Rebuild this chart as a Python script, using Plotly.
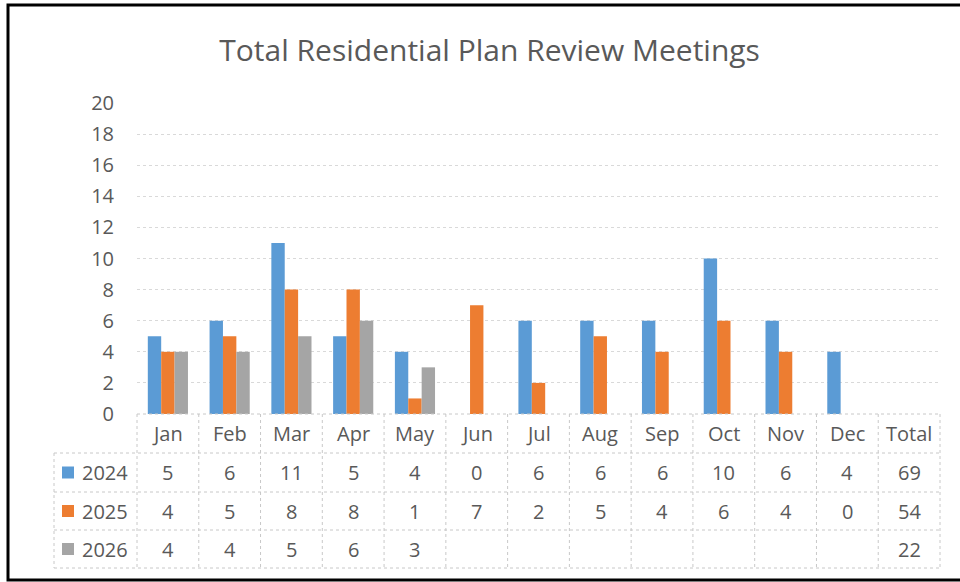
import plotly.graph_objects as go

# data
months = ["Jan", "Feb", "Mar", "Apr", "May", "Jun", "Jul", "Aug", "Sep", "Oct", "Nov", "Dec"]
years = ["2024", "2025", "2026"]
v2024 = [5, 6, 11, 5, 4, 0, 6, 6, 6, 10, 6, 4]
v2025 = [4, 5, 8, 8, 1, 7, 2, 5, 4, 6, 4, 0]
v2026 = [4, 4, 5, 6, 3, None, None, None, None, None, None, None]
colors = ["#5B9BD5", "#ED7D31", "#A5A5A5"]
series = [v2024, v2025, v2026]
categories = months + ["Total"]

W, H = 960, 582
L, R, T, B = 137, 20, 103, 168
PW = W - L - R
PH = H - T - B
TXT = "#595959"
FONT = "Open Sans"


def px(x):
    return (x - L) / PW


def py(y):
    return (H - B - y) / PH


fig = go.Figure()
for name, vals, c in zip(years, series, colors):
    fig.add_trace(go.Bar(x=months, y=vals, name=name, marker=dict(color=c, line=dict(width=0))))

shapes = []
annos = []
grid = dict(color="#C8C8C8", width=1, dash="dot")
cell_font = dict(size=20, color=TXT, family=FONT)

# data table grid
y_rows = [H - B, 453, 492, 530, 568]
n = len(categories)
for i, yy in enumerate(y_rows):
    x0 = px(137) if i == 0 else px(54)
    shapes.append(dict(type="line", xref="paper", yref="paper", x0=x0, x1=1, y0=py(yy), y1=py(yy), line=grid))
shapes.append(dict(type="line", xref="paper", yref="paper", x0=px(54), x1=px(54), y0=py(453), y1=py(568), line=grid))
for k in range(n + 1):
    shapes.append(dict(type="line", xref="paper", yref="paper", x0=k / n, x1=k / n,
                       y0=py(H - B), y1=py(568), line=grid))

# header row
hy = (H - B + 453) / 2
for k, cat in enumerate(categories):
    annos.append(dict(x=(k + 0.5) / n, y=py(hy), xref="paper", yref="paper", text=cat,
                      xanchor="center", yanchor="middle", showarrow=False, font=cell_font))

# value rows
for r, (name, vals, c) in enumerate(zip(years, series, colors)):
    ty = (y_rows[r + 1] + y_rows[r + 2]) / 2
    cells = ["" if v is None else str(v) for v in vals] + [str(sum(v for v in vals if v is not None))]
    for k, t in enumerate(cells):
        annos.append(dict(x=(k + 0.5) / n, y=py(ty), xref="paper", yref="paper", text=t,
                          xanchor="center", yanchor="middle", showarrow=False, font=cell_font))
    shapes.append(dict(type="rect", xref="paper", yref="paper", x0=px(62), x1=px(74),
                       y0=py(ty + 6), y1=py(ty - 6), fillcolor=c, line=dict(width=0)))
    annos.append(dict(x=px(80), y=py(ty), xref="paper", yref="paper", text=name,
                      xanchor="left", yanchor="middle", showarrow=False, font=cell_font))

# outer border
shapes.append(dict(type="rect", xref="paper", yref="paper", x0=px(8), x1=px(965), y0=py(5), y1=py(580),
                   line=dict(color="black", width=3)))

fig.update_layout(
    width=W, height=H,
    margin=dict(l=L, r=R, t=T, b=B),
    paper_bgcolor="white", plot_bgcolor="white",
    title=dict(text="Total Residential Plan Review Meetings", x=0.51, xanchor="center", y=1 - 50 / H,
               yanchor="middle", font=dict(size=30, color=TXT, family=FONT)),
    barmode="group", bargap=0.35, bargroupgap=0,
    showlegend=False,
    shapes=shapes, annotations=annos,
    font=dict(family=FONT, color=TXT),
)
fig.update_xaxes(categoryorder="array", categoryarray=categories, range=[-0.5, n - 0.5],
                 showticklabels=False, showgrid=False, zeroline=False, showline=False)
fig.update_yaxes(range=[0, 20], dtick=2, showgrid=True, gridcolor="#D9D9D9", griddash="dot",
                 zeroline=False, showline=False, ticks="", ticklabelstandoff=22,
                 tickfont=dict(size=20, color=TXT, family=FONT))

fig.write_html("out.html", config={"displayModeBar": False},
               post_script="document.body.style.margin='0px';")
